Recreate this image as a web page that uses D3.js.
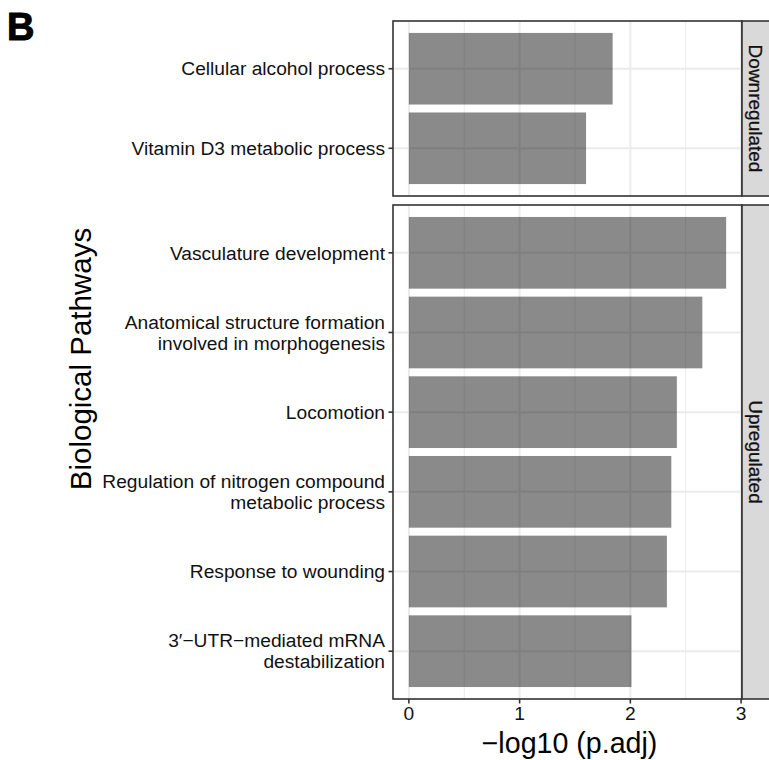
<!DOCTYPE html>
<html><head><meta charset="utf-8">
<script src="https://cdn.jsdelivr.net/npm/d3@7"></script>
<style>html,body{margin:0;padding:0;background:#fff;}svg{display:block;font-family:"Liberation Sans",Arial,sans-serif;}</style>
</head><body>
<svg id="chart" width="769" height="760"></svg>
<script>
// ---- data ----
const groups = ["Downregulated", "Upregulated"];
const downCategories = ["Cellular alcohol process", "Vitamin D3 metabolic process"];
const downValues = [1.84, 1.60];
const upCategories = [
  "Vasculature development",
  "Anatomical structure formation\ninvolved in morphogenesis",
  "Locomotion",
  "Regulation of nitrogen compound\nmetabolic process",
  "Response to wounding",
  "3\u2032\u2212UTR\u2212mediated mRNA\ndestabilization"
];
const upValues = [2.865, 2.65, 2.42, 2.37, 2.33, 2.01];
const xTicks = [0, 1, 2, 3];
const xMinorTicks = [0.5, 1.5, 2.5];
const xTitle = "\u2212log10 (p.adj)";
const yTitle = "Biological Pathways";
const panelLetter = "B";

// ---- layout ----
const svg = d3.select("#chart");
const left = 393, right = 742, stripW = 30;
const panels = [
  {name: groups[0], cats: downCategories, vals: downValues, top: 21, bottom: 196},
  {name: groups[1], cats: upCategories, vals: upValues, top: 205, bottom: 699}
];
const maxV = d3.max(downValues.concat(upValues));
const x = d3.scaleLinear().domain([-0.05 * maxV, maxV * 1.05]).range([left, right]);
const grid = "#EBEBEB", border = "#333333";
const labelSize = 19.2;

panels.forEach(p => {
  const y = d3.scalePoint().domain(p.cats).range([p.top, p.bottom]).padding(0.6);
  const step = y.step();
  const g = svg.append("g");
  g.append("rect").attr("x", left).attr("y", p.top).attr("width", right - left).attr("height", p.bottom - p.top).attr("fill", "#fff");
  g.selectAll(".minor").data(xMinorTicks).join("line")
    .attr("x1", d => x(d)).attr("x2", d => x(d)).attr("y1", p.top).attr("y2", p.bottom)
    .attr("stroke", grid).attr("stroke-width", 1);
  g.selectAll(".majx").data(xTicks).join("line")
    .attr("x1", d => x(d)).attr("x2", d => x(d)).attr("y1", p.top).attr("y2", p.bottom)
    .attr("stroke", grid).attr("stroke-width", 2);
  g.selectAll(".majy").data(p.cats).join("line")
    .attr("x1", left).attr("x2", right).attr("y1", d => y(d)).attr("y2", d => y(d))
    .attr("stroke", grid).attr("stroke-width", 2);
  g.selectAll(".bar").data(p.cats.map((c, i) => ({c, v: p.vals[i]}))).join("rect")
    .attr("x", x(0)).attr("width", d => x(d.v) - x(0))
    .attr("y", d => y(d.c) - step * 0.45).attr("height", step * 0.9)
    .attr("fill", "#000").attr("fill-opacity", 0.46);
  g.append("rect").attr("x", left).attr("y", p.top).attr("width", right - left).attr("height", p.bottom - p.top)
    .attr("fill", "none").attr("stroke", border).attr("stroke-width", 1.6);
  g.append("rect").attr("x", right).attr("y", p.top).attr("width", stripW).attr("height", p.bottom - p.top)
    .attr("fill", "#D9D9D9").attr("stroke", border).attr("stroke-width", 1.6);
  g.append("text").attr("transform", `translate(${right + 13},${(p.top + p.bottom) / 2}) rotate(90)`)
    .attr("text-anchor", "middle").attr("dominant-baseline", "central")
    .attr("font-size", 19).attr("fill", "#111").attr("stroke", "#111").attr("stroke-width", 0.3)
    .text(p.name);
  p.cats.forEach(c => {
    const cy = y(c);
    g.append("line").attr("x1", left - 4.5).attr("x2", left).attr("y1", cy).attr("y2", cy)
      .attr("stroke", border).attr("stroke-width", 1.6);
    const lines = c.split("\n");
    const lh = 21;
    const t = g.append("text").attr("text-anchor", "end").attr("font-size", labelSize).attr("fill", "#111");
    lines.forEach((ln, i) => {
      t.append("tspan").attr("x", left - 8)
        .attr("y", cy + (i - (lines.length - 1) / 2) * lh).attr("dy", "0.35em").text(ln);
    });
  });
});

// x axis
const bottom = panels[1].bottom;
svg.selectAll(".xt").data(xTicks).join("line")
  .attr("x1", d => x(d)).attr("x2", d => x(d)).attr("y1", bottom).attr("y2", bottom + 4.5)
  .attr("stroke", border).attr("stroke-width", 1.6);
svg.selectAll(".xl").data(xTicks).join("text")
  .attr("x", d => x(d)).attr("y", bottom + 21).attr("text-anchor", "middle")
  .attr("font-size", labelSize).attr("fill", "#111").text(d => d);

// titles
svg.append("text").attr("x", (left + right) / 2 + 2).attr("y", 753).attr("text-anchor", "middle")
  .attr("font-size", 28.6).attr("fill", "#000").text(xTitle);
svg.append("text").attr("transform", `translate(91,359) rotate(-90)`).attr("text-anchor", "middle")
  .attr("font-size", 29.5).attr("fill", "#000").text(yTitle);
svg.append("text").attr("x", 7).attr("y", 40).attr("font-size", 38).attr("font-weight", "bold")
  .attr("fill", "#000").attr("stroke", "#000").attr("stroke-width", 1).text(panelLetter);
</script>
</body></html>
